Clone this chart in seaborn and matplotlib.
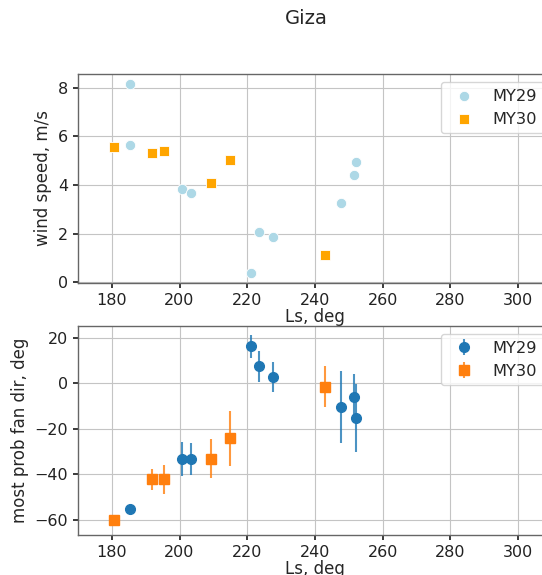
import matplotlib
matplotlib.use("Agg")
import matplotlib.pyplot as plt
import pandas as pd
import seaborn as sns

# wind speed (top panel)
ls_29 = [185.5, 185.5, 200.6, 203.5, 221.0, 223.4, 227.5, 247.6, 251.5, 252.0]
wind_29 = [8.15, 5.64, 3.84, 3.68, 0.36, 2.08, 1.85, 3.27, 4.41, 4.94]
ls_30 = [180.6, 191.8, 195.3, 209.2, 215.0, 243.0]
wind_30 = [5.57, 5.30, 5.40, 4.08, 5.01, 1.12]

# most probable fan direction (bottom panel)
dir_29 = [-55.4, -33.1, -33.1, 16.4, 7.5, 2.9, -10.4, -6.0, -15.3]
err_29 = [1.5, 7.5, 7.0, 5.0, 7.0, 6.5, 16.0, 10.0, 15.0]
ls_dir_29 = [185.5, 200.6, 203.5, 221.0, 223.4, 227.5, 247.6, 251.5, 252.0]
dir_30 = [-60.2, -42.2, -42.2, -33.1, -24.2, -1.5]
err_30 = [2.5, 4.5, 6.5, 8.6, 12.0, 9.0]

sns.set_theme(style="whitegrid", rc={
    "axes.edgecolor": "#666666",
    "axes.linewidth": 1.0,
    "grid.color": "#c4c4c4",
    "grid.linewidth": 0.8,
    "xtick.bottom": True,
    "ytick.left": True,
    "xtick.color": "#222222",
    "ytick.color": "#222222",
    "xtick.major.size": 3.5,
    "ytick.major.size": 3.5,
})
plt.rcParams['font.family'] = ['DejaVu Sans']

fig = plt.figure(figsize=(5.42, 5.75), dpi=100)
ax1 = fig.add_axes([0.1439, 0.508, 0.8745, 0.3635])
ax2 = fig.add_axes([0.1439, 0.0696, 0.8745, 0.3635])

tick_fs = 11.5
label_fs = 12
legend_fs = 11.7

top29 = pd.DataFrame({"Ls": ls_29, "wind": wind_29})
top30 = pd.DataFrame({"Ls": ls_30, "wind": wind_30})
sns.scatterplot(data=top29, x="Ls", y="wind", color="lightblue", marker="o",
                s=55, edgecolor="white", linewidth=0.6, label="MY29", ax=ax1)
sns.scatterplot(data=top30, x="Ls", y="wind", color="orange", marker="s",
                s=55, edgecolor="white", linewidth=0.6, label="MY30", ax=ax1)
ax1.set_xlim(170, 310)
ax1.set_ylim(-0.03, 8.57)
ax1.set_yticks([0, 2, 4, 6, 8])
ax1.set_xlabel("Ls, deg", fontsize=label_fs, labelpad=0)
ax1.set_ylabel("wind speed, m/s", fontsize=label_fs)
ax1.legend(loc="upper right", fontsize=legend_fs, frameon=True)

ax2.errorbar(ls_dir_29, dir_29, yerr=err_29, fmt="o", color="#1f77b4",
             ecolor=(0.12, 0.47, 0.71, 0.8), elinewidth=1.5, markersize=7,
             label="MY29")
ax2.errorbar(ls_30, dir_30, yerr=err_30, fmt="s", color="#ff7f0e",
             ecolor=(1.0, 0.5, 0.05, 0.8), elinewidth=1.5, markersize=7,
             label="MY30")
ax2.set_xlim(170, 310)
ax2.set_ylim(-66.7, 25.3)
ax2.set_yticks([-60, -40, -20, 0, 20])
ax2.set_xlabel("Ls, deg", fontsize=label_fs, labelpad=0)
ax2.set_ylabel("most prob fan dir, deg", fontsize=label_fs)
ax2.legend(loc="upper right", fontsize=legend_fs, frameon=True)

for ax in (ax1, ax2):
    ax.tick_params(axis="both", which="major", labelsize=tick_fs)
    ax.set_xticks([180, 200, 220, 240, 260, 280, 300])

fig.suptitle("Giza", fontsize=14, x=0.5655, y=0.985)
plt.savefig("out.png", dpi=100)
